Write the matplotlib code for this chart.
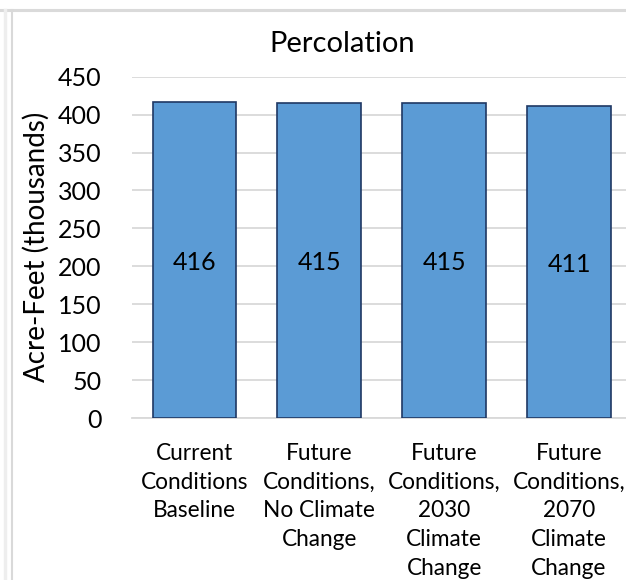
import matplotlib
matplotlib.use("Agg")
import matplotlib.pyplot as plt
from matplotlib.lines import Line2D

# data (thousand acre-feet)
categories = [
    "Current\nConditions\nBaseline",
    "Future\nConditions,\nNo Climate\nChange",
    "Future\nConditions,\n2030\nClimate\nChange",
    "Future\nConditions,\n2070\nClimate\nChange",
]
values = [416, 415, 415, 411]
yticks = [0, 50, 100, 150, 200, 250, 300, 350, 400, 450]

plt.rcParams['font.family'] = ['Lato', 'DejaVu Sans']

fig = plt.figure(figsize=(6.26, 5.8), dpi=100)
ax = fig.add_axes([132 / 626, (580 - 418) / 580, 1 - 132 / 626, (418 - 76.7) / 580])

x = list(range(len(values)))
bars = ax.bar(x, values, width=0.67, color='#5B9BD5', edgecolor='#1F3864',
              linewidth=1.2, zorder=3)

# value labels in the middle of each bar
for xi, v in zip(x, values):
    ax.text(xi, v / 2, str(v), ha='center', va='center_baseline', fontsize=18,
            color='black', zorder=4)

ax.set_ylim(0, 450)
ax.set_xlim(-0.5, 3.456)
ax.set_yticks(yticks)
ax.set_xticks(x)
ax.set_xticklabels(categories, fontsize=16.3, linespacing=1.45)
ax.tick_params(axis='y', labelsize=18, length=0, pad=22)
ax.tick_params(axis='x', length=0, pad=18)
ax.grid(axis='y', color='#D9D9D9', linewidth=1.3, zorder=0)
for s in ['top', 'right', 'left']:
    ax.spines[s].set_visible(False)
ax.spines['bottom'].set_color('#D9D9D9')
ax.spines['bottom'].set_linewidth(1.3)

ax.set_ylabel('Acre-Feet (thousands)', fontsize=20, labelpad=6)
fig.text(342 / 626, 1 - 44 / 580, 'Percolation', ha='center', va='center', fontsize=21)

# faint spreadsheet gridlines around the screenshot
fig.add_artist(Line2D([0, 1], [1 - 10 / 580, 1 - 10 / 580], transform=fig.transFigure,
                      color='#DADADA', linewidth=2.2))
fig.add_artist(Line2D([4.5 / 626, 4.5 / 626], [0, 1 - 10 / 580], transform=fig.transFigure,
                      color='#EEEEEE', linewidth=2.5))
fig.add_artist(Line2D([11.5 / 626, 11.5 / 626], [0, 1 - 10 / 580], transform=fig.transFigure,
                      color='#D9D9D9', linewidth=1.5))

fig.savefig('out.png', dpi=100)
